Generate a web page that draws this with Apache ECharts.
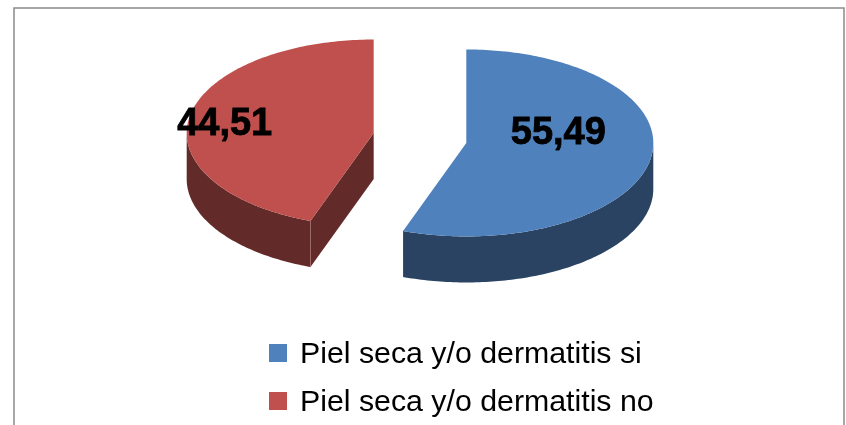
<!DOCTYPE html>
<html>
<head>
<meta charset="utf-8">
<style>html,body{margin:0;padding:0;background:#fff}#c{width:846px;height:425px}</style>
<script src="https://cdn.jsdelivr.net/npm/echarts@6/dist/echarts.min.js"></script>
</head>
<body>
<div id="c"></div>
<script>
const categories = ['Piel seca y/o dermatitis si', 'Piel seca y/o dermatitis no'];
const values = [55.49, 44.51];
const topColors = ['#4F81BD', '#C0504D'];
const sideColors = ['#2A4362', '#622A29'];
const labelOffsets = [[92, -9], [-149, -9]];
const legendTops = [336, 384];

const pieCenter = [420, 138], rx = 187, ry = 93.5, depth = 46;
const explodeX = 47, explodeY = 29; // slice separation along the mid-angle, screen px
const total = values.reduce((a, b) => a + b, 0);

function renderSlice(idx) {
  return function () {
    const before = values.slice(0, idx).reduce((a, b) => a + b, 0);
    const a0 = before / total * 360, a1 = (before + values[idx]) / total * 360;
    const mid = (a0 + a1) / 2 * Math.PI / 180;
    const cx = pieCenter[0] + explodeX * Math.sin(mid);
    const cy = pieCenter[1] - explodeY * Math.cos(mid);
    const pt = (deg, dz) => {
      const r = deg * Math.PI / 180;
      return [cx + rx * Math.sin(r), cy - ry * Math.cos(r) + (dz || 0)];
    };
    const children = [];
    // outer wall: only the part of the rim facing the viewer
    const s0 = Math.max(a0, 90), s1 = Math.min(a1, 270);
    if (s1 > s0) {
      const upper = [], lower = [];
      for (let d = s0; d < s1; d += 1) { upper.push(pt(d)); lower.unshift(pt(d, depth)); }
      upper.push(pt(s1)); lower.unshift(pt(s1, depth));
      children.push({ type: 'polygon', shape: { points: upper.concat(lower) }, style: { fill: sideColors[idx] } });
    }
    // cut face at the start edge, visible when it turns towards the viewer
    if (a0 > 180 && a0 < 360) {
      const tip = pt(a0), tipLow = pt(a0, depth);
      children.push({ type: 'polygon',
        shape: { points: [tip, [cx, cy], [cx, cy + depth], tipLow] },
        style: { fill: sideColors[idx] } });
      children.push({ type: 'line',
        shape: { x1: tip[0], y1: tip[1], x2: tipLow[0], y2: tipLow[1] },
        style: { stroke: '#9C6A68', lineWidth: 1 } });
    }
    // top face
    const pts = [[cx, cy]];
    for (let d = a0; d < a1; d += 1) pts.push(pt(d));
    pts.push(pt(a1));
    children.push({ type: 'polygon', shape: { points: pts }, style: { fill: topColors[idx] } });
    // value label
    children.push({ type: 'text', z2: 10,
      style: { x: cx + labelOffsets[idx][0], y: cy + labelOffsets[idx][1],
        text: String(values[idx]).replace('.', ','), fill: '#000', stroke: '#000', lineWidth: 0.8,
        font: 'bold 38px "Liberation Sans", Arial, sans-serif', align: 'center', verticalAlign: 'middle' } });
    return { type: 'group', children };
  };
}

const chart = echarts.init(document.getElementById('c'), null, { renderer: 'canvas' });
chart.setOption({
  animation: false,
  backgroundColor: '#fff',
  color: topColors,
  legend: categories.map((name, i) => ({
    orient: 'vertical', left: 269, top: legendTops[i], padding: 0,
    itemWidth: 18, itemHeight: 18,
    icon: 'rect', selectedMode: false, data: [name],
    formatter: '{t|{name}}',
    textStyle: { rich: { t: { fontFamily: '"Liberation Sans", Arial, sans-serif', fontSize: 30.3, color: '#000', padding: [4, 0, 0, 8], lineHeight: 30 } } }
  })),
  graphic: [{
    type: 'polyline', silent: true,
    shape: { points: [[14, 425], [14, 8], [844, 8], [844, 425]] },
    style: { stroke: '#8A8A8A', lineWidth: 1.5, fill: null }
  }],
  series: categories.map((name, i) => ({
    type: 'custom', name, coordinateSystem: 'none', silent: true,
    data: [[values[i]]], renderItem: renderSlice(i)
  }))
});
</script>
</body>
</html>
